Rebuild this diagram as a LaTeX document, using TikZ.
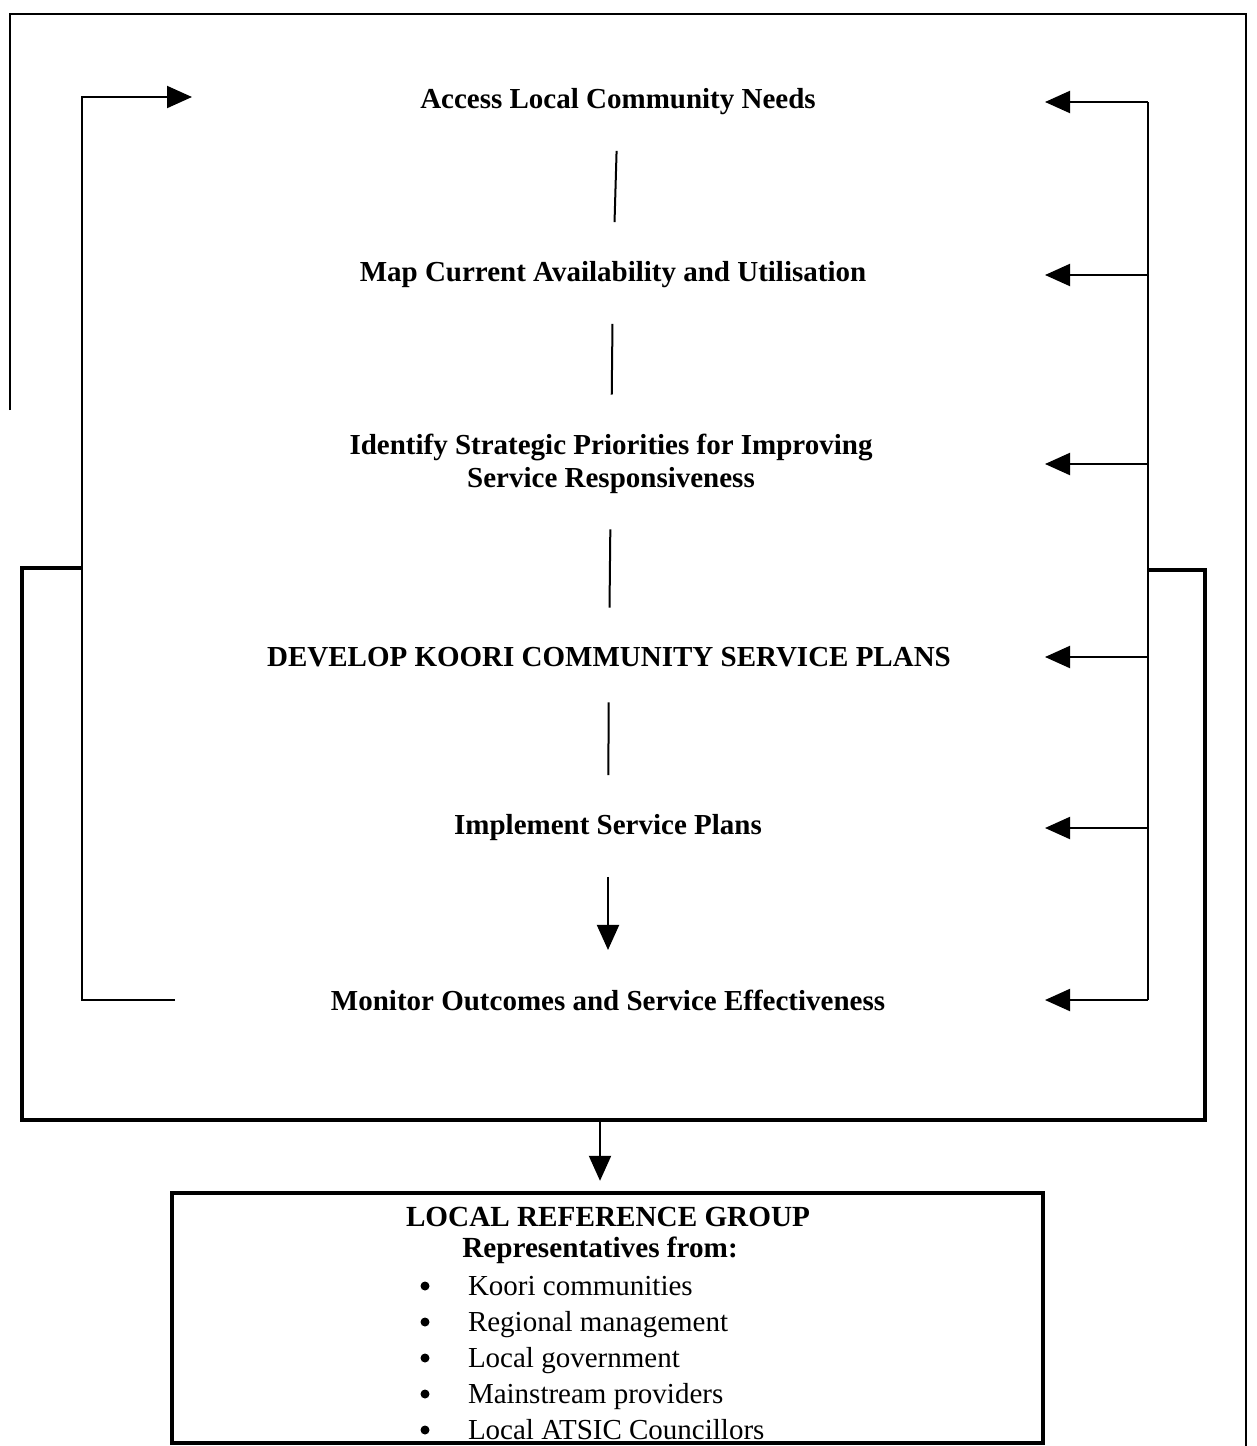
\documentclass[tikz,border=0pt]{standalone}
\usepackage{fontspec}
\setmainfont{Liberation Serif}
\usetikzlibrary{arrows.meta,positioning}
\tikzstyle{post}=[-{Triangle[length=12.5pt,width=11pt]}]
\tikzstyle{heavy}=[line width=2.2pt]

\begin{document}
\begin{tikzpicture}[x=0.5pt,y=-0.5pt,line width=1pt,
  stage/.style={font=\bfseries\fontsize{14.5}{16.5}\selectfont,align=center},
  tie/.style={shorten <=14pt,shorten >=16pt},
  member/.style={font=\fontsize{14.5}{17}\selectfont,anchor=base west,inner sep=0pt},
  dot/.style={circle,fill,inner sep=0pt,minimum size=4.5pt}]

\useasboundingbox (0,0) rectangle (1257,1446);

% steps of the cycle
\node[stage] (need) at (618,102)  {Access Local Community Needs};
\node[stage] (map)  at (613,275)  {Map Current Availability and Utilisation};
\node[stage] (prio) at (611,464)  {Identify Strategic Priorities for Improving\\Service Responsiveness};
\node[stage] (plan) at (609,657)  {DEVELOP KOORI COMMUNITY SERVICE PLANS};
\node[stage] (impl) at (608,828)  {Implement Service Plans};
\node[stage] (mon)  at (608,1000) {Monitor Outcomes and Service Effectiveness};

\draw[tie] (need) -- (map);
\draw[tie] (map) -- (prio);
\draw[tie] (prio) -- (plan);
\draw[tie] (plan) -- (impl);
\draw[tie,post] (impl) -- (mon);

% feedback on the right
\coordinate (bus) at (1148,0);
\coordinate (tip) at (1045,0);
\draw (need -| bus) -- (mon -| bus);
\foreach \s in {need,map,prio,plan,impl,mon}
  \draw[post] (\s -| bus) -- (\s -| tip);

% loop back on the left
\coordinate (loop)  at (82,0);
\coordinate (ret)   at (175,0);
\coordinate (entry) at (192,97);
\draw[post] (mon -| ret) -- (mon -| loop) |- (entry);

% frames
\draw (10,410) -- (10,14) -- (1246,14) -- (1246,1446);
\draw[heavy] (82,568) -- (22,568) -- (22,1120) -- (1205,1120) -- (1205,570) -- (1148,570);

% reference group
\node[draw,heavy,minimum width=435.5pt,minimum height=125pt,inner sep=0pt] (lrg) at (607.5,1318) {};
\coordinate (drop) at (600,1120);
\draw[post,shorten >=5pt] (drop) -- (drop |- lrg.north);

\node[font=\bfseries\fontsize{14.6}{17}\selectfont] (lrgtitle) at (608,1217) {LOCAL REFERENCE GROUP};
\node[font=\bfseries\fontsize{14.6}{17}\selectfont] (lrgsub) at (600,1250) {Representatives from:};
\foreach \m [count=\k] in {Koori communities,Regional management,Local government,Mainstream providers,Local ATSIC Councillors}{
  \node[dot] (b\k) at (425,{1250+36*\k}) {};
  \node[member] (m\k) at (467,{1259+36*\k}) {\m};
}

\end{tikzpicture}
\end{document}
